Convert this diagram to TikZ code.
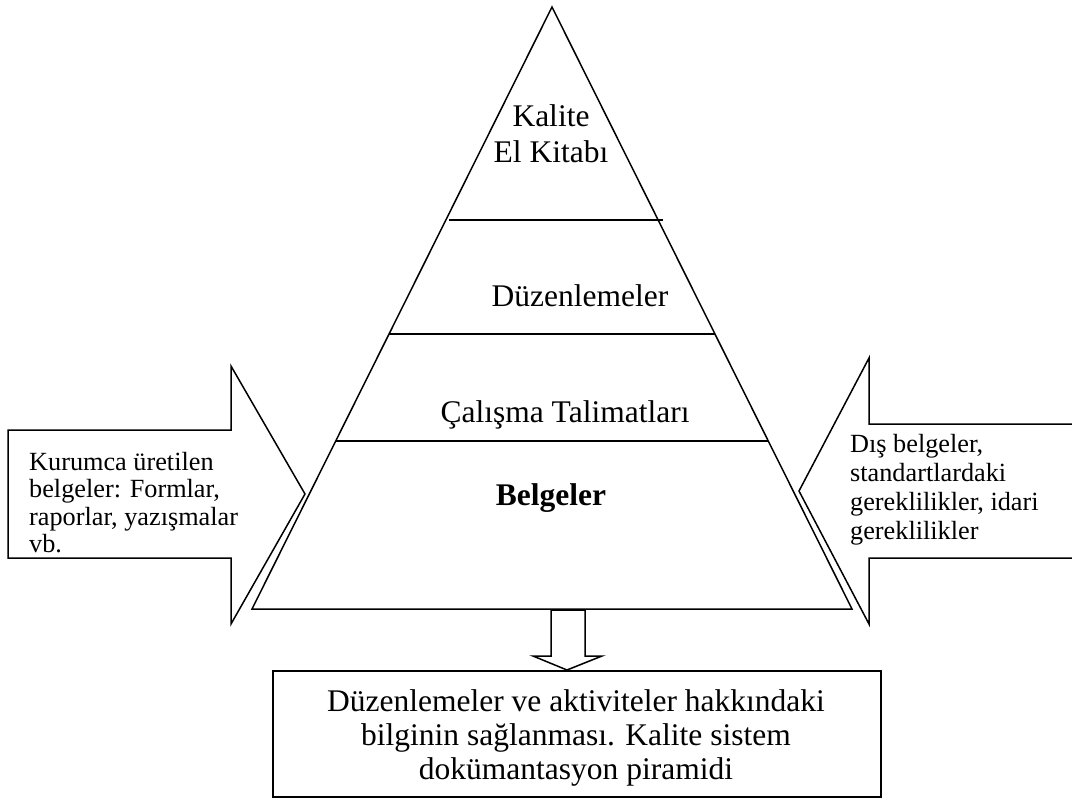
\documentclass[tikz,border=0pt]{standalone}
\usepackage{fontspec}
\setmainfont{Liberation Serif}
\begin{document}
\begin{tikzpicture}[x=1pt,y=-1pt,
  outline/.style={draw=black, line width=1.5pt, line join=miter},
  bigtext/.style={font=\fontsize{31.5}{36}\selectfont, inner sep=0pt},
  smalltext/.style={inner sep=0pt, align=left, anchor=north west}]
\useasboundingbox (0,0) rectangle (1072,803);

% pyramid outline
\coordinate (apex) at (552,7);
\coordinate (bl) at (252,609);
\coordinate (br) at (852,609);
\draw[outline] (apex) -- (br) -- (bl) -- cycle;

% tier separators
\draw[outline] (449,220) coordinate (t1l) -- (663,220) coordinate (t1r);
\draw[outline] (389,334) coordinate (t2l) -- (715,334) coordinate (t2r);
\draw[outline] (336,441) coordinate (t3l) -- (768,441) coordinate (t3r);

% tier labels
\node[bigtext, align=center, anchor=north] (manual) at (551,104.5) {Kalite\\El Kitabı};
\node[bigtext, anchor=base] (regs) at (580,306) {Düzenlemeler};
\node[bigtext, anchor=base] (instr) at (565,422) {Çalışma Talimatları};
\node[bigtext, anchor=base, font=\fontsize{31.5}{36}\selectfont\bfseries] (docs) at (551,505) {Belgeler};

% left block arrow (internal documents)
\draw[outline, fill=white] (8,430) -- (231,430) -- (231,366) -- (305,494)
  -- (231,624) -- (231,558) -- (8,558) -- cycle;
\node[smalltext, font=\fontsize{26.25}{27.5}\selectfont] (internal) at (29,452)
  {Kurumca üretilen\\belgeler: Formlar,\\raporlar, yazışmalar\\vb.};

% right block arrow (external documents)
\draw[outline, fill=white] (1080,424) -- (869,424) -- (869,358) -- (799,491)
  -- (869,624) -- (869,558) -- (1080,558);
\node[smalltext, font=\fontsize{26.25}{29}\selectfont] (external) at (850,434)
  {Dış belgeler,\\standartlardaki\\gereklilikler, idari\\gereklilikler};

% result box and downward block arrow
\node[draw=black, line width=1.5pt, minimum width=608pt, minimum height=126pt, inner sep=0pt] (result) at (577,734) {};
\node[bigtext, align=center, anchor=north, font=\fontsize{31.5}{34}\selectfont] (resulttext) at (576,689.5)
  {Düzenlemeler ve aktiviteler hakkındaki\\bilginin sağlanması. Kalite sistem\\dokümantasyon piramidi};
\draw[outline, fill=white] (551,610) -- (551,656) -- (533,656) -- (567,670)
  -- (602,656) -- (585,656) -- (585,610) -- cycle;
\end{tikzpicture}
\end{document}
